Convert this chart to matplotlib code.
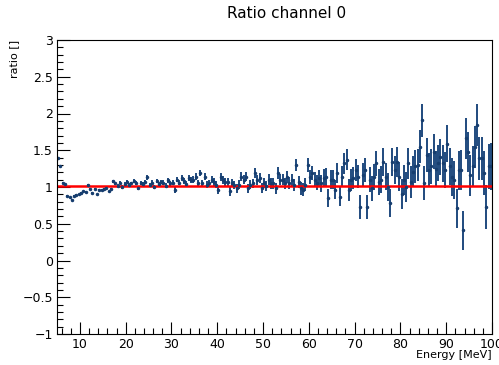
import numpy as np
import matplotlib
matplotlib.use("Agg")
from matplotlib import pyplot as plt
from matplotlib.ticker import MultipleLocator

# ratio per 0.5 MeV bin, 5 -> 100 MeV
ratio = [
    1.40, 1.29, 1.06, 1.04, 0.88, 0.86, 0.82, 0.88, 0.89, 0.90, 0.92, 0.94,
    0.93, 1.03, 0.97, 0.92, 0.97, 0.90, 0.96, 0.96, 0.97, 0.99, 0.94, 0.97,
    # 17 - 33 MeV
    1.08, 1.05, 1.02, 1.06, 1.00, 1.04, 1.07, 1.03, 1.05, 1.08, 1.05, 0.99,
    1.06, 1.04, 1.07, 1.13, 1.03, 1.06, 1.00, 1.08, 1.04, 1.07, 1.06, 1.02,
    1.09, 1.05, 1.06, 0.96, 1.10, 1.06, 1.12, 1.08, 1.04,
    # 34 - 47 MeV
    1.12, 1.10, 1.10, 1.14, 1.05, 1.19, 1.05, 1.14, 1.03, 1.05, 1.10, 1.07,
    1.03, 0.96, 1.14, 1.10, 1.07, 1.07, 0.94, 1.05, 1.03, 0.98, 1.03, 1.14,
    1.10, 1.14, 0.98,
    # 47 - 62 MeV
    1.03, 1.05, 1.19, 1.10, 1.12, 0.98, 1.05, 1.01, 1.10, 1.05, 1.05, 0.98,
    1.19, 1.10, 1.10, 1.05, 1.14, 1.05, 1.10, 1.03, 1.30, 1.07, 0.98, 0.96,
    1.03, 1.30, 1.14, 1.19, 1.10, 1.06, 1.12,
    # 62 - 100 MeV
    1.05, 1.12,
    1.14, 0.85, 1.10, 1.10, 0.96, 1.19, 0.87, 1.14, 1.32, 1.37,
    0.96, 1.10, 1.12, 1.23, 1.14, 0.73, 1.16, 1.23, 0.73, 1.10,
    0.98, 1.14, 1.32, 1.07, 1.10, 1.34, 1.14, 1.00, 0.78, 1.34,
    1.23, 1.34, 1.14, 0.91, 1.10, 1.00, 1.32, 1.07, 1.21, 1.28,
    1.30, 1.55, 1.91, 1.05, 1.44, 1.23, 1.28, 1.48, 1.25, 1.32,
    1.41, 1.32, 1.23, 1.59, 1.28, 1.14, 1.10, 0.71, 1.23, 1.23,
    0.41, 1.66, 1.48, 1.16, 1.28, 1.55, 1.84, 1.39, 1.39, 1.19,
    0.73, 1.28, 1.28,
]

ratio_err = [
    0.01, 0.01, 0.01, 0.01, 0.01, 0.01, 0.01, 0.01, 0.01, 0.01, 0.01, 0.01,
    0.01, 0.01, 0.01, 0.01, 0.01, 0.01, 0.01, 0.01, 0.01, 0.01, 0.01, 0.01,
    0.02, 0.02, 0.02, 0.02, 0.022, 0.022, 0.022, 0.024, 0.024, 0.024, 0.026, 0.026,
    0.026, 0.028, 0.028, 0.028, 0.03, 0.03, 0.03, 0.032, 0.032, 0.032, 0.034, 0.034,
    0.034, 0.036, 0.036, 0.036, 0.038, 0.038, 0.04, 0.04, 0.04,
    0.042, 0.042, 0.044, 0.044, 0.044, 0.046, 0.046, 0.046, 0.048, 0.048, 0.05, 0.05,
    0.05, 0.052, 0.052, 0.054, 0.054, 0.054, 0.056, 0.056, 0.058, 0.058, 0.06, 0.06,
    0.06, 0.062, 0.062,
    0.064, 0.064, 0.066, 0.066, 0.068, 0.068, 0.07, 0.07, 0.072, 0.072, 0.074, 0.074,
    0.076, 0.076, 0.078, 0.078, 0.08, 0.08, 0.082, 0.082, 0.085, 0.085, 0.088, 0.088,
    0.09, 0.092, 0.095, 0.098, 0.10, 0.105, 0.11,
    0.115, 0.12, 0.12, 0.125, 0.125, 0.13, 0.13, 0.135, 0.135, 0.14,
    0.14, 0.145, 0.145, 0.15, 0.15, 0.155, 0.155, 0.16, 0.16, 0.165,
    0.165, 0.17, 0.17, 0.175, 0.175, 0.18, 0.18, 0.185, 0.185, 0.19,
    0.19, 0.195, 0.195, 0.20, 0.20, 0.205, 0.205, 0.21, 0.21, 0.215,
    0.215, 0.22, 0.22, 0.225, 0.225, 0.23, 0.23, 0.235, 0.235, 0.24,
    0.24, 0.245, 0.245, 0.25, 0.25, 0.255, 0.255, 0.26, 0.26, 0.265,
    0.265, 0.27, 0.27, 0.275, 0.275, 0.28, 0.28, 0.285, 0.285, 0.29,
    0.29, 0.30, 0.30, 0.31, 0.32,
]

fit_value = 1.015
e_min, e_max, bin_width = 5.0, 100.0, 0.5

n = min(len(ratio), len(ratio_err))
energy = e_min + bin_width * (np.arange(n) + 0.5)

fig = plt.figure(figsize=(4.99, 3.65), dpi=100)
ax = fig.add_axes([57/499, 1 - 334/365, 435/499, 294/365])

ax.errorbar(energy, ratio[:n], yerr=ratio_err[:n], fmt='o', ms=1.5,
            color='#163d6e', ecolor='#1f4a7e', elinewidth=1.4, capsize=0)
ax.plot([e_min, e_max], [fit_value, fit_value], color='#ff0000', lw=1.8)

ax.set_xlim(e_min, e_max)
ax.set_ylim(-1, 3)
ax.xaxis.set_major_locator(MultipleLocator(10))
ax.xaxis.set_minor_locator(MultipleLocator(2))
ax.yaxis.set_major_locator(MultipleLocator(0.5))
ax.yaxis.set_minor_locator(MultipleLocator(0.1))
ax.tick_params(which='both', direction='in', labelsize=9, width=0.8)
ax.tick_params(which='major', length=9)
ax.tick_params(which='minor', length=4.5)
ax.tick_params(axis='x', pad=3)
ax.tick_params(axis='y', pad=3)
ax.set_yticks([-1, -0.5, 0, 0.5, 1, 1.5, 2, 2.5, 3])
ax.set_yticklabels(['\u22121', '\u22120.5', '0', '0.5', '1', '1.5', '2', '2.5', '3'])

fig.text(287/499, 1 - 14/365, 'Ratio channel 0', ha='center', va='center', fontsize=11)
fig.text(14/499, 1 - 40/365, 'ratio []', rotation=90, ha='center', va='top', fontsize=8)
fig.text(492/499, 1 - 355/365, 'Energy [MeV]', ha='right', va='center', fontsize=8)

fig.savefig('out.png', dpi=100)
